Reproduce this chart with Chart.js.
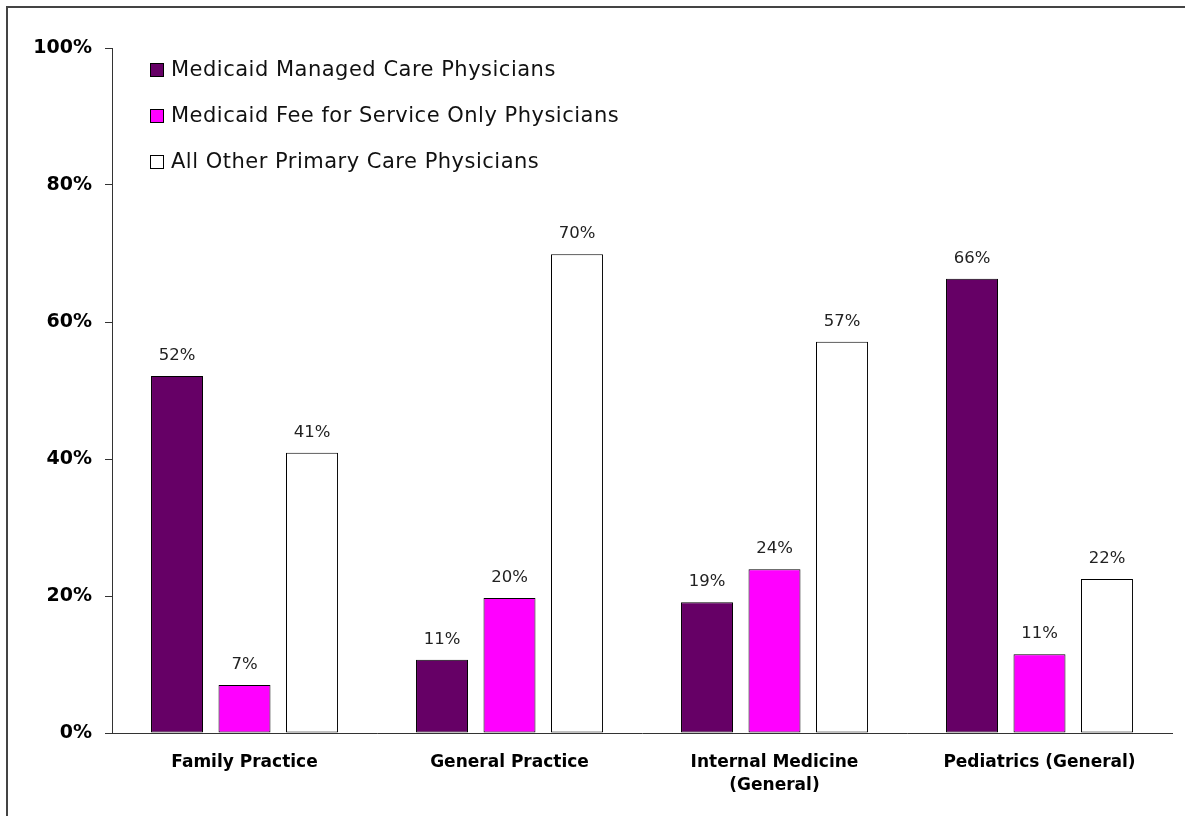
<!DOCTYPE html>
<html>
<head>
<meta charset="utf-8">
<script src="https://cdn.jsdelivr.net/npm/chart.js@4.4.1/dist/chart.umd.min.js"></script>
<style>
html,body{margin:0;padding:0;background:#fff;}
#wrap{position:relative;width:1185px;height:816px;}
</style>
</head>
<body>
<div id="wrap"><canvas id="c" width="1185" height="816"></canvas></div>
<script>
const categories = [["Family Practice"], ["General Practice"], ["Internal Medicine", "(General)"], ["Pediatrics (General)"]];
const seriesNames = ["Medicaid Managed Care Physicians", "Medicaid Fee for Service Only Physicians", "All Other Primary Care Physicians"];
const managedCare = [52.1, 10.7, 19.1, 66.3];
const feeForService = [7.0, 19.7, 23.9, 11.5];
const allOther = [40.9, 69.9, 57.1, 22.5];
const managedCareLabels = ["52%", "11%", "19%", "66%"];
const feeForServiceLabels = ["7%", "20%", "24%", "11%"];
const allOtherLabels = ["41%", "70%", "57%", "22%"];
const yTicks = [0, 20, 40, 60, 80, 100];

const FONT = "'DejaVu Sans', sans-serif";
const colors = ["#660066", "#FF00FF", "#FFFFFF"];
const valueLabels = [managedCareLabels, feeForServiceLabels, allOtherLabels];

const frame = {
  id: 'frame',
  beforeDraw(chart) {
    const ctx = chart.ctx;
    ctx.save();
    ctx.fillStyle = '#fff';
    ctx.fillRect(0, 0, chart.width, chart.height);
    ctx.strokeStyle = '#444';
    ctx.lineWidth = 2;
    ctx.beginPath();
    ctx.moveTo(7, chart.height + 5);
    ctx.lineTo(7, 7);
    ctx.lineTo(chart.width + 5, 7);
    ctx.stroke();
    ctx.restore();
  }
};

const labelsPlugin = {
  id: 'valueLabels',
  afterDatasetsDraw(chart) {
    const ctx = chart.ctx;
    ctx.save();
    ctx.font = "16.5px " + FONT;
    ctx.fillStyle = '#222';
    ctx.textAlign = 'center';
    ctx.textBaseline = 'alphabetic';
    chart.data.datasets.forEach((ds, i) => {
      const meta = chart.getDatasetMeta(i);
      meta.data.forEach((bar, j) => {
        ctx.fillText(valueLabels[i][j], bar.x, bar.y - 16);
      });
    });
    ctx.restore();
  }
};

const legendPlugin = {
  id: 'customLegend',
  afterDraw(chart) {
    const ctx = chart.ctx;
    ctx.save();
    ctx.font = "21px " + FONT;
    ctx.textBaseline = 'middle';
    try { ctx.letterSpacing = '0.5px'; } catch (e) {}
    chart.data.datasets.forEach((ds, i) => {
      const y = 70 + i * 46;
      ctx.fillStyle = ds.backgroundColor;
      ctx.fillRect(150.5, y - 6.5, 13, 13);
      ctx.strokeStyle = '#000';
      ctx.lineWidth = 1;
      ctx.strokeRect(150.5, y - 6.5, 13, 13);
      ctx.fillStyle = '#111';
      ctx.fillText(ds.label, 171, y + 1);
    });
    ctx.restore();
  }
};

new Chart(document.getElementById('c'), {
  type: 'bar',
  data: {
    labels: categories,
    datasets: [
      { label: seriesNames[0], data: managedCare, backgroundColor: colors[0], borderColor: '#000', borderWidth: 1, borderSkipped: false },
      { label: seriesNames[1], data: feeForService, backgroundColor: colors[1], borderColor: '#000', borderWidth: 1, borderSkipped: false },
      { label: seriesNames[2], data: allOther, backgroundColor: colors[2], borderColor: '#000', borderWidth: 1, borderSkipped: false }
    ]
  },
  options: {
    responsive: false,
    animation: false,
    devicePixelRatio: 1,
    layout: { padding: { left: 0, right: 13, top: 48, bottom: 0 } },
    plugins: { legend: { display: false }, tooltip: { enabled: false } },
    datasets: { bar: { categoryPercentage: 0.764, barPercentage: 0.77 } },
    scales: {
      x: {
        grid: { display: false, drawTicks: false },
        border: { display: true, color: '#333', width: 1 },
        ticks: {
          color: '#000',
          font: { family: FONT, size: 17, weight: 'bold', lineHeight: 1.35 },
          padding: 18,
          maxRotation: 0,
          autoSkip: false
        },
        afterFit(scale) { scale.height = 83; }
      },
      y: {
        min: 0, max: 100,
        afterBuildTicks(scale) { scale.ticks = yTicks.map(v => ({ value: v })); },
        grid: { drawOnChartArea: false, drawTicks: true, tickLength: 7, color: '#333' },
        border: { display: true, color: '#333', width: 1 },
        ticks: {
          color: '#000',
          font: { family: FONT, size: 19, weight: 'bold' },
          padding: 13,
          callback: v => v + '%'
        },
        afterFit(scale) { scale.width = 112; }
      }
    }
  },
  plugins: [frame, labelsPlugin, legendPlugin]
});
</script>
</body>
</html>
